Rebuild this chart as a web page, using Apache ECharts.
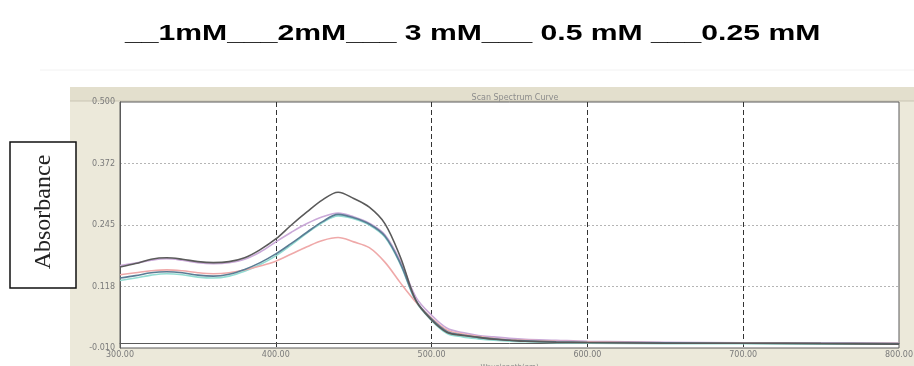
<!DOCTYPE html>
<html>
<head>
<meta charset="utf-8">
<script src="https://cdn.jsdelivr.net/npm/echarts@6/dist/echarts.min.js"></script>
<style>html,body{margin:0;padding:0;background:#fff}#c{width:914px;height:366px}</style>
</head>
<body>
<div id="c"></div>
<script>
// ---- data ----
var wavelengths = [300,310,320,330,340,350,360,370,380,390,400,410,420,430,440,450,460,470,480,490,500,510,520,530,540,550,560,580,600,650,700,750,800];
var s1mM   = [0.158,0.165,0.174,0.177,0.174,0.169,0.167,0.169,0.177,0.194,0.216,0.245,0.272,0.297,0.313,0.300,0.282,0.248,0.178,0.088,0.048,0.022,0.016,0.012,0.008,0.006,0.004,0.002,0.001,0.000,0.000,-0.001,-0.002];
var s2mM   = [0.130,0.135,0.141,0.144,0.142,0.137,0.135,0.139,0.149,0.163,0.181,0.204,0.228,0.250,0.264,0.258,0.245,0.220,0.163,0.086,0.047,0.020,0.013,0.009,0.006,0.004,0.003,0.001,0.000,-0.001,-0.001,-0.002,-0.002];
var s3mM   = [0.135,0.140,0.146,0.148,0.146,0.141,0.139,0.143,0.153,0.167,0.185,0.207,0.230,0.252,0.267,0.260,0.247,0.222,0.165,0.088,0.050,0.024,0.017,0.012,0.009,0.006,0.005,0.003,0.002,0.001,0.000,0.000,-0.001];
var s05mM  = [0.161,0.166,0.172,0.175,0.172,0.167,0.165,0.167,0.174,0.189,0.210,0.230,0.248,0.262,0.270,0.262,0.249,0.225,0.170,0.095,0.058,0.031,0.022,0.016,0.013,0.010,0.008,0.006,0.004,0.002,0.001,0.001,0.000];
var s025mM = [0.142,0.146,0.150,0.152,0.150,0.146,0.144,0.146,0.152,0.160,0.170,0.185,0.200,0.213,0.219,0.210,0.198,0.168,0.125,0.085,0.052,0.027,0.019,0.014,0.010,0.007,0.006,0.004,0.003,0.001,0.001,0.000,0.000];
var seriesNames  = ['1mM','2mM','3mM','0.5mM','0.25mM'];
var legendTexts  = ['1mM','2mM',' 3 mM',' 0.5 mM ','0.25 mM'];
var legendUnders = ['__','___','___','___','___'];
var yTickLabels  = ['-0.010','0.118','0.245','0.372','0.500'];
var xTicks = [300,400,500,600,700,800];

// ---- styles ----
var lineColors   = ['#5a5a5a','#93dcd2','#5a7c94','#caa9d8','#efa9a9'];
var legendColors = ['#111111','#1ba35f','#2b78d0','#aaa2bb','#e41c26'];
var rawSeries = [s1mM, s2mM, s3mM, s05mM, s025mM];
var drawOrder = [3,1,4,2,0];

function pairs(vals){ return wavelengths.map(function(w,i){ return [w, vals[i]]; }); }

var series = drawOrder.map(function(idx, k){
  return {
    name: seriesNames[idx], type: 'line', smooth: 0.35, showSymbol: false,
    xAxisIndex: 0, yAxisIndex: 0, z: 3 + k,
    lineStyle: {color: lineColors[idx], width: 1.6},
    data: pairs(rawSeries[idx])
  };
});

var rich = {t: {fontFamily: 'Liberation Sans, Arial', fontWeight: 'bold', fontSize: 22, color: '#111'}};
var keys = ['k','g','b','p','r'];
var legendStr = '';
for (var i = 0; i < seriesNames.length; i++) {
  rich[keys[i]] = {fontFamily: 'Liberation Sans, Arial', fontWeight: 'bold', fontSize: 22, color: legendColors[i]};
  legendStr += '{' + keys[i] + '|' + legendUnders[i] + '}{t|' + legendTexts[i] + '}';
}

var chart = echarts.init(document.getElementById('c'), null, {renderer: 'canvas'});
chart.setOption({
  animation: false,
  backgroundColor: '#ffffff',
  title: {
    text: 'Scan Spectrum Curve', left: 510, top: 89, textAlign: 'center',
    textStyle: {fontSize: 8, fontWeight: 'normal', color: '#8c8c8c', fontFamily: 'DejaVu Sans'}
  },
  graphic: [
    {type: 'rect', z: -10, silent: true, shape: {x: 70, y: 87, width: 844, height: 279}, style: {fill: '#ece9da'}},
    {type: 'rect', z: -9, silent: true, shape: {x: 70, y: 87, width: 844, height: 14}, style: {fill: '#e3dfcd'}},
    {type: 'line', z: -8, silent: true, shape: {x1: 70, y1: 101, x2: 914, y2: 101}, style: {stroke: '#c9c5b4', lineWidth: 1}},
    {type: 'line', z: -8, silent: true, shape: {x1: 40, y1: 70, x2: 914, y2: 70}, style: {stroke: '#f2f2f2', lineWidth: 1}},
    {type: 'rect', z: 20, shape: {x: 10, y: 142, width: 66, height: 146}, style: {fill: '#ffffff', stroke: '#111', lineWidth: 1.5}},
    {type: 'text', z: 21, x: 44, y: 212, rotation: Math.PI / 2,
      style: {text: 'Absorbance', fontFamily: 'Liberation Serif, Times New Roman', fontSize: 24, fill: '#222', align: 'center', verticalAlign: 'middle'}},
    {type: 'text', z: 21, x: 125, y: 23, scaleX: 1.37,
      style: {text: legendStr, rich: rich, fontFamily: 'Liberation Sans', fontWeight: 'bold', fontSize: 22}}
  ],
  grid: {left: 120, right: 15, top: 102, bottom: 18, show: true, backgroundColor: '#ffffff', borderColor: '#5a5a5a', borderWidth: 1, containLabel: false, outerBoundsMode: 'none'},
  xAxis: {
    type: 'value', min: xTicks[0], max: xTicks[xTicks.length - 1], interval: 100,
    name: 'Wavelength(nm)', nameLocation: 'middle', nameGap: 8,
    nameTextStyle: {fontSize: 7, color: '#8c8c8c', fontFamily: 'DejaVu Sans', verticalAlign: 'top'},
    axisLine: {show: true, lineStyle: {color: '#5a5a5a'}},
    axisTick: {show: false},
    axisLabel: {fontSize: 8, color: '#7a7a7a', margin: 3, fontFamily: 'DejaVu Sans', formatter: function(v){ return v.toFixed(2); }},
    splitLine: {show: true, showMinLine: false, showMaxLine: false, lineStyle: {color: '#333', type: [5, 3], width: 1}}
  },
  yAxis: [
    {type: 'value', min: -0.01, max: 0.5, position: 'left', show: true,
      axisLine: {show: false}, axisTick: {show: false}, axisLabel: {show: false}, splitLine: {show: false}},
    {type: 'value', min: 0, max: yTickLabels.length - 1, interval: 1, position: 'left',
      axisLine: {show: true, lineStyle: {color: '#5a5a5a'}}, axisTick: {show: false},
      axisLabel: {fontSize: 8, color: '#7a7a7a', margin: 5, fontFamily: 'DejaVu Sans', formatter: function(v){ return yTickLabels[Math.round(v)]; }},
      splitLine: {show: true, showMinLine: false, showMaxLine: false, lineStyle: {color: '#b5b5b5', type: [2, 2], width: 1}}}
  ],
  series: series
});
</script>
</body>
</html>
